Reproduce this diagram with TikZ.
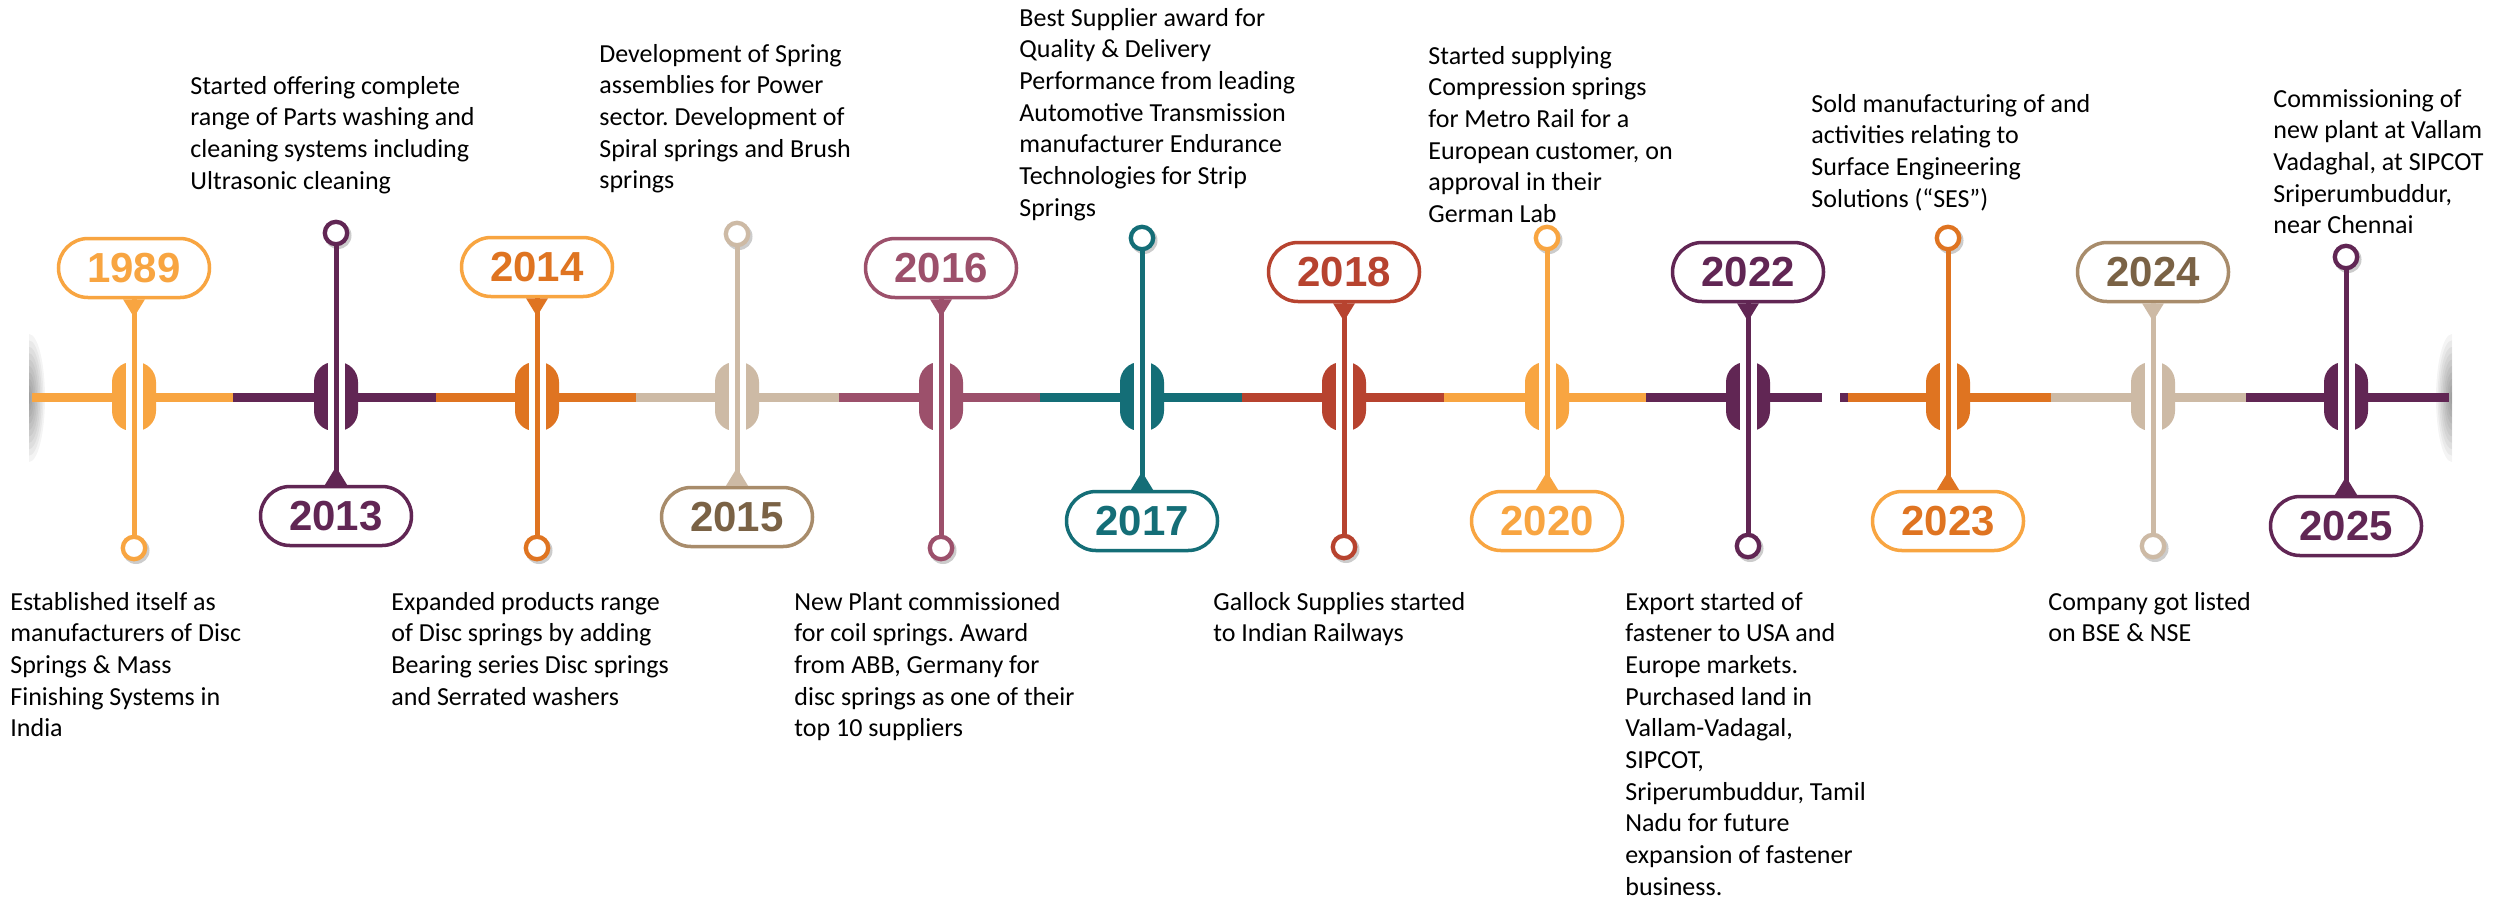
\documentclass[tikz,border=0pt]{standalone}
\usepackage{fontspec}
\setmainfont{Carlito}
\newfontfamily\yearfont{Liberation Sans}
\frenchspacing
\definecolor{orY}{HTML}{F8A541}
\definecolor{orD}{HTML}{DF7421}
\definecolor{plum}{HTML}{612654}
\definecolor{cBeige}{HTML}{CDBAA5}
\definecolor{cTan}{HTML}{A88C6B}
\definecolor{cBrown}{HTML}{7A6245}
\definecolor{cMauve}{HTML}{9C506B}
\definecolor{cTeal}{HTML}{146E77}
\definecolor{cRust}{HTML}{B7432F}
\tikzset{
  pill/.style={draw=#1, line width=1.75pt, rounded corners=14.75pt, minimum width=75.5pt, minimum height=29.5pt, fill=white, inner sep=0pt},
  yr/.style={text=#1, font=\yearfont\bfseries\fontsize{21}{21}\selectfont},
  dot/.style={circle, draw=#1, line width=2.15pt, fill=white, minimum size=11.2pt, inner sep=0pt},
  stem/.style={draw=#1, line width=2.5pt},
  seg/.style={draw=#1, line width=4.1pt},
  txt/.style={anchor=base west, inner sep=0pt, font=\fontsize{13}{15.85}\selectfont},
  haze/.style={fill=black, opacity=0.045},
}
\newcommand\tlines[1]{\begin{tabular}[t]{@{}l@{}}#1\end{tabular}}
% capsule marker: #1 x, #2 colour
\newcommand\capsulemark[2]{%
  \fill[#2, rounded corners=10pt] (#1-22,362) rectangle (#1+22,431);
  \fill[white] (#1-8.5,360) rectangle (#1+8.5,433);
}
% milestone with pill above: #1 name, #2 x, #3 pill y, #4 circle y, #5 line col, #6 border col, #7 text col, #8 year
\newcommand\msUp[8]{%
  \fill[black,opacity=.2] (#2+2,#4+2.5) circle (13.5);
  \node[dot=#5] (c#1) at (#2,#4) {};
  \node[pill=#6, yr=#7] (p#1) at (#2,#3) {#8};
  \draw[stem=#5] (p#1.south) -- (c#1.north);
  \fill[#5] ([xshift=-5.5pt]p#1.south) -- ([xshift=5.5pt]p#1.south) -- ([yshift=-9pt]p#1.south) -- cycle;
}
% milestone with pill below
\newcommand\msDown[8]{%
  \fill[black,opacity=.2] (#2+2,#4+2.5) circle (13.5);
  \node[dot=#5] (c#1) at (#2,#4) {};
  \node[pill=#6, yr=#7] (p#1) at (#2,#3) {#8};
  \draw[stem=#5] (c#1.south) -- (p#1.north);
  \fill[#5] ([xshift=-5.5pt]p#1.north) -- ([xshift=5.5pt]p#1.north) -- ([yshift=9pt]p#1.north) -- cycle;
}
\begin{document}
\begin{tikzpicture}[x=0.5pt, y=-0.5pt]
\fill[white] (0,0) rectangle (2499,901);
\useasboundingbox (0,0) rectangle (2499,901);
% end shadows (soft, built from stacked translucent ellipses)
\begin{scope}
  \clip (29,320) rectangle (70,476);
  \foreach \k in {1,...,10} {\fill[haze] (29,398) ellipse ({1.6*\k} and {6.4*\k});}
\end{scope}
\begin{scope}
  \clip (2400,320) rectangle (2452,476);
  \foreach \k in {1,...,10} {\fill[haze] (2452,398) ellipse ({1.6*\k} and {6.4*\k});}
\end{scope}
% timeline segments
\draw[seg=orY] (32,397.5) -- (233,397.5);
\draw[seg=plum] (233,397.5) -- (436,397.5);
\draw[seg=orD] (436,397.5) -- (636,397.5);
\draw[seg=cBeige] (636,397.5) -- (839,397.5);
\draw[seg=cMauve] (839,397.5) -- (1040,397.5);
\draw[seg=cTeal] (1040,397.5) -- (1242,397.5);
\draw[seg=cRust] (1242,397.5) -- (1444,397.5);
\draw[seg=orY] (1444,397.5) -- (1646,397.5);
\draw[seg=plum] (1646,397.5) -- (1822,397.5);
\draw[seg=plum] (1840,397.5) -- (1848,397.5);
\draw[seg=orD] (1848,397.5) -- (2051,397.5);
\draw[seg=cBeige] (2051,397.5) -- (2246,397.5);
\draw[seg=plum] (2246,397.5) -- (2449,397.5);
% capsules
\capsulemark{134}{orY}
\capsulemark{336}{plum}
\capsulemark{537}{orD}
\capsulemark{737}{cBeige}
\capsulemark{941}{cMauve}
\capsulemark{1142}{cTeal}
\capsulemark{1344}{cRust}
\capsulemark{1547}{orY}
\capsulemark{1748}{plum}
\capsulemark{1948}{orD}
\capsulemark{2153}{cBeige}
\capsulemark{2346}{plum}
% milestones
\msUp{1989}{134}{268}{548}{orY}{orY}{orY}{1989}
\msDown{2013}{336}{516}{233}{plum}{plum}{plum}{2013}
\msUp{2014}{537}{267}{548}{orD}{orY}{orD}{2014}
\msDown{2015}{737}{517}{234}{cBeige}{cTan}{cBrown}{2015}
\msUp{2016}{941}{268}{548}{cMauve}{cMauve}{cMauve}{2016}
\msDown{2017}{1142}{521}{238}{cTeal}{cTeal}{cTeal}{2017}
\msUp{2018}{1344}{272}{547}{cRust}{cRust}{cRust}{2018}
\msDown{2020}{1547}{521}{238}{orY}{orY}{orY}{2020}
\msUp{2022}{1748}{272}{546}{plum}{plum}{plum}{2022}
\msDown{2023}{1948}{521}{238}{orD}{orY}{orD}{2023}
\msUp{2024}{2153}{272}{546}{cBeige}{cTan}{cBrown}{2024}
\msDown{2025}{2346}{526}{257}{plum}{plum}{plum}{2025}
% texts
\node[txt] (t1989) at (10,610) {\tlines{Established itself as\\manufacturers of Disc\\Springs \& Mass\\Finishing Systems in\\India}};
\node[txt] (t2014) at (391,610) {\tlines{Expanded products range\\of Disc springs by adding\\Bearing series Disc springs\\and Serrated washers}};
\node[txt] (t2016) at (794,610) {\tlines{New Plant commissioned\\for coil springs. Award\\from ABB, Germany for\\disc springs as one of their\\top 10 suppliers}};
\node[txt] (t2018) at (1213,610) {\tlines{Gallock Supplies started\\to Indian Railways}};
\node[txt] (t2022) at (1625,610) {\tlines{Export started of\\fastener to USA and\\Europe markets.\\Purchased land in\\Vallam-Vadagal,\\SIPCOT,\\Sriperumbuddur, Tamil\\Nadu for future\\expansion of fastener\\business.}};
\node[txt] (t2024) at (2048,610) {\tlines{Company got listed\\on BSE \& NSE}};
\node[txt] (t2013) at (190,94) {\tlines{Started offering complete\\range of Parts washing and\\cleaning systems including\\Ultrasonic cleaning}};
\node[txt] (t2015) at (599,62) {\tlines{Development of Spring\\assemblies for Power\\sector. Development of\\Spiral springs and Brush\\springs}};
\node[txt] (t2017) at (1019,26) {\tlines{Best Supplier award for\\Quality \& Delivery\\Performance from leading\\Automotive Transmission\\manufacturer Endurance\\Technologies for Strip\\Springs}};
\node[txt] (t2020) at (1428,64) {\tlines{Started supplying\\Compression springs\\for Metro Rail for a\\European customer, on\\approval in their\\German Lab}};
\node[txt] (t2023) at (1811,112) {\tlines{Sold manufacturing of and\\activities relating to\\Surface Engineering\\Solutions (“SES”)}};
\node[txt] (t2025) at (2273,107) {\tlines{Commissioning of\\new plant at Vallam\\Vadaghal, at SIPCOT\\Sriperumbuddur,\\near Chennai}};
\end{tikzpicture}
\end{document}
